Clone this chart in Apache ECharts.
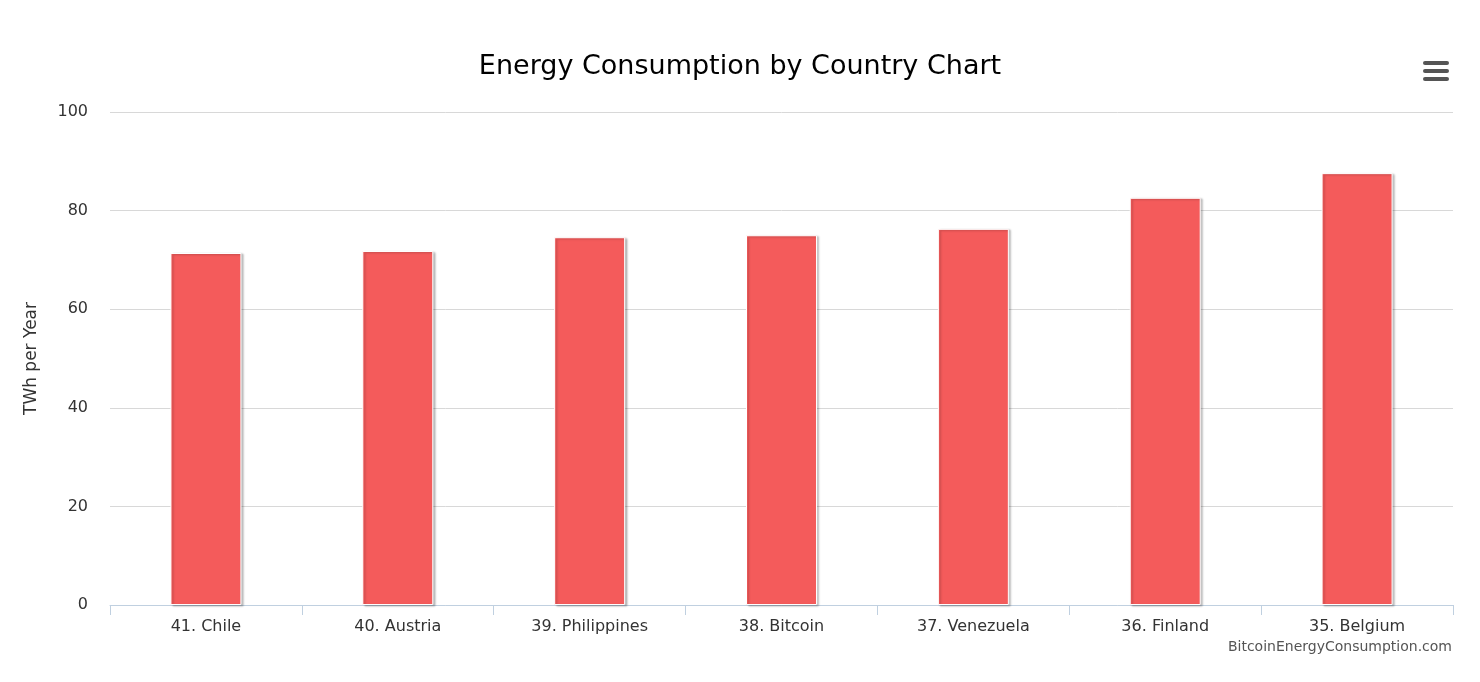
<!DOCTYPE html>
<html>
<head>
<meta charset="utf-8">
<script src="https://cdn.jsdelivr.net/npm/echarts@6/dist/echarts.min.js"></script>
<style>
  html, body { margin: 0; padding: 0; background: #fff; }
  #chart { width: 1480px; height: 682px; }
</style>
</head>
<body>
<div id="chart"></div>
<script>
const categories = ['41. Chile', '40. Austria', '39. Philippines', '38. Bitcoin', '37. Venezuela', '36. Finland', '35. Belgium'];
const values = [71.4, 71.8, 74.6, 75.0, 76.3, 82.6, 87.6];
const yTicks = [0, 20, 40, 60, 80, 100];

const font = '"DejaVu Sans", sans-serif';
const myChart = echarts.init(document.getElementById('chart'));
const option = {
    backgroundColor: '#fff',
    animation: false,
    title: {
        text: 'Energy Consumption by Country Chart',
        left: 'center',
        top: 48,
        textStyle: { fontFamily: font, fontSize: 27, fontWeight: 'normal', color: '#000' }
    },
    graphic: [
        { type: 'rect', right: 31, top: 61, shape: { width: 26, height: 4, r: 2 }, style: { fill: '#555' } },
        { type: 'rect', right: 31, top: 69, shape: { width: 26, height: 4, r: 2 }, style: { fill: '#555' } },
        { type: 'rect', right: 31, top: 77, shape: { width: 26, height: 4, r: 2 }, style: { fill: '#555' } },
        { type: 'text', right: 28, top: 640, style: { text: 'BitcoinEnergyConsumption.com', fill: '#555', font: '14px ' + font } }
    ],
    grid: { left: 110, right: 27, top: 112, bottom: 77 },
    xAxis: {
        type: 'category',
        data: categories,
        axisLine: { lineStyle: { color: '#c0d0e0' } },
        axisTick: { show: true, alignWithLabel: false, length: 10, lineStyle: { color: '#c0d0e0' } },
        axisLabel: { color: '#333', fontFamily: font, fontSize: 16, margin: 14 }
    },
    yAxis: {
        type: 'value',
        min: yTicks[0],
        max: yTicks[yTicks.length - 1],
        interval: 20,
        name: 'TWh per Year',
        nameLocation: 'middle',
        nameGap: 70,
        nameTextStyle: { color: '#333', fontFamily: font, fontSize: 17 },
        axisLabel: { color: '#333', fontFamily: font, fontSize: 16, margin: 22 },
        splitLine: { lineStyle: { color: '#d8d8d8' } }
    },
    series: [{
        type: 'bar',
        data: values,
        barWidth: '37%',
        itemStyle: {
            color: '#f45b5b',
            borderColor: '#fff',
            borderWidth: 1,
            shadowColor: 'rgba(0,0,0,0.25)',
            shadowBlur: 2,
            shadowOffsetX: 2,
            shadowOffsetY: 1
        }
    }]
};
myChart.setOption(option);
window.addEventListener('resize', () => myChart.resize());
</script>
</body>
</html>
